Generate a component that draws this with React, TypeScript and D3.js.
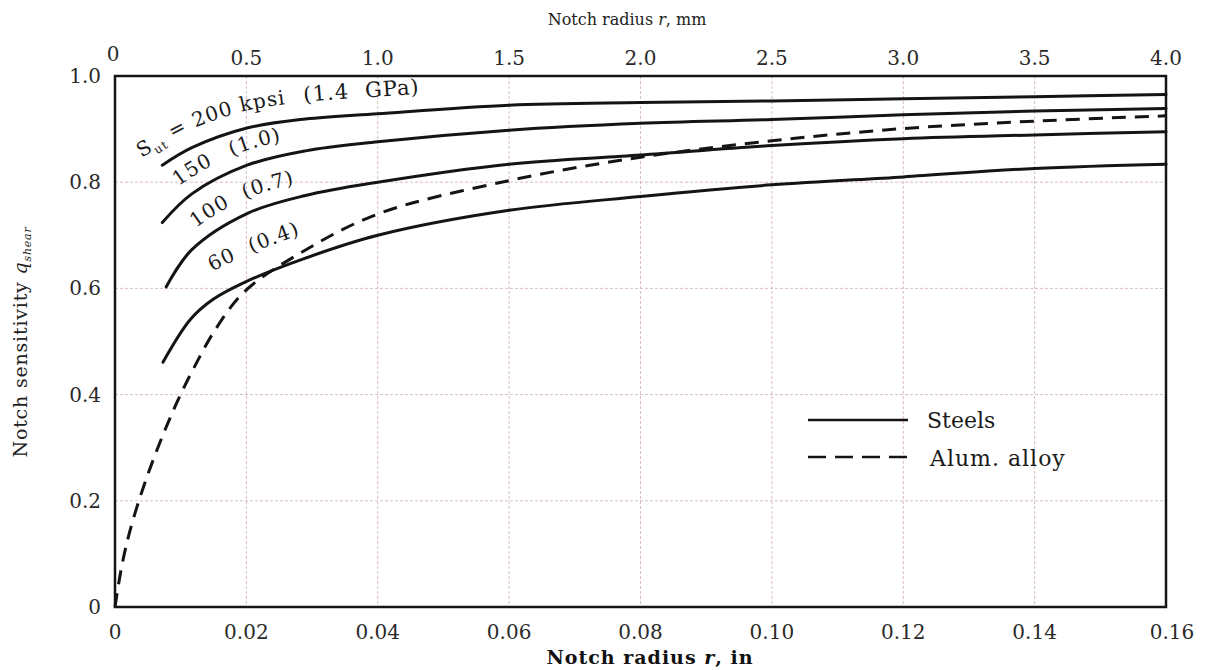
import React from "react";
import * as d3 from "d3";

// notch radius r (in) vs notch sensitivity q
const steel200 = [
  [0.0072, 0.832], [0.0117, 0.865], [0.0201, 0.902], [0.029, 0.919], [0.04, 0.929],
  [0.06, 0.945], [0.08, 0.95], [0.1, 0.953], [0.12, 0.957], [0.14, 0.961], [0.16, 0.965],
];
const steel150 = [
  [0.0072, 0.724], [0.0117, 0.778], [0.0201, 0.832], [0.029, 0.859], [0.04, 0.876],
  [0.06, 0.898], [0.08, 0.911], [0.1, 0.918], [0.12, 0.927], [0.14, 0.934], [0.16, 0.939],
];
const steel100 = [
  [0.0078, 0.603], [0.0117, 0.673], [0.0201, 0.741], [0.029, 0.775], [0.04, 0.8],
  [0.06, 0.834], [0.08, 0.851], [0.1, 0.869], [0.12, 0.882], [0.14, 0.889], [0.16, 0.895],
];
const steel60 = [
  [0.0073, 0.461], [0.0115, 0.542], [0.015, 0.58], [0.0198, 0.612], [0.029, 0.657], [0.04, 0.7],
  [0.06, 0.747], [0.08, 0.773], [0.1, 0.795], [0.12, 0.81], [0.14, 0.826], [0.16, 0.834],
];
const alumAlloy = [
  [0, 0], [0.001, 0.075], [0.0022, 0.14], [0.0039, 0.21], [0.0056, 0.27], [0.0075, 0.33],
  [0.0096, 0.39], [0.012, 0.45], [0.0154, 0.525], [0.0198, 0.595], [0.028, 0.665], [0.04, 0.74],
  [0.06, 0.803], [0.08, 0.847], [0.1, 0.878], [0.12, 0.901], [0.14, 0.915], [0.16, 0.925],
];

const inchTicks = [0, 0.02, 0.04, 0.06, 0.08, 0.1, 0.12, 0.14, 0.16];
const inchLabels = ["0", "0.02", "0.04", "0.06", "0.08", "0.10", "0.12", "0.14", "0.16"];
const mmTicks = [0, 0.5, 1, 1.5, 2, 2.5, 3, 3.5, 4];
const mmLabels = ["0", "0.5", "1.0", "1.5", "2.0", "2.5", "3.0", "3.5", "4.0"];
const qTicks = [0, 0.2, 0.4, 0.6, 0.8, 1.0];
const qLabels = ["0", "0.2", "0.4", "0.6", "0.8", "1.0"];

const steelCurves = [
  { id: "s200", data: steel200, strength: "200", gpa: "(1.4 GPa)", off: 17, start: 26 },
  { id: "s150", data: steel150, strength: "150", gpa: "(1.0)", off: 14, start: 77 },
  { id: "s100", data: steel100, strength: "100", gpa: "(0.7)", off: 14, start: 106 },
  { id: "s60", data: steel60, strength: "60", gpa: "(0.4)", off: 24, start: 146 },
];

const W = 1228;
const H = 670;
const left = 115, right = 1166, top = 76, bottom = 607;
const font = "'DejaVu Serif', 'Liberation Serif', serif";
const ink = "#141414";

export default function App() {
  const x = d3.scaleLinear().domain([0, 0.16]).range([left, right]);
  const xmm = d3.scaleLinear().domain([0, 4]).range([left, right]);
  const y = d3.scaleLinear().domain([0, 1]).range([bottom, top]);

  const line = d3
    .line<number[]>()
    .x((d) => x(d[0]))
    .y((d) => y(d[1]))
    .curve(d3.curveCatmullRom.alpha(0.5));

  const pxLine = d3.line<number[]>().curve(d3.curveCatmullRom.alpha(0.5));

  // label path: the curve pushed off along its normal, stretched a bit to the left
  const labelPath = (data: number[][], off: number) => {
    const p = data.map((d) => [x(d[0]), y(d[1])]);
    const pts = p.map((pt, i) => {
      const a = p[Math.max(0, i - 1)];
      const b = p[Math.min(p.length - 1, i + 1)];
      const tx = b[0] - a[0], ty = b[1] - a[1];
      const l = Math.hypot(tx, ty);
      return [pt[0] + (ty / l) * off, pt[1] - (tx / l) * off];
    });
    const [p0, p1] = pts;
    const dx = p0[0] - p1[0], dy = p0[1] - p1[1];
    const len = Math.hypot(dx, dy);
    const ext = [p0[0] + (dx / len) * 40, p0[1] + (dy / len) * 40];
    return pxLine([ext, ...pts]);
  };

  const gridColor = "#d9bcc4";

  return (
    <svg
      width={W}
      height={H}
      style={{ position: "absolute", left: 0, top: 0, background: "#fff" }}
      fontFamily={font}
    >
      <defs>
        {steelCurves.map((c) => (
          <path key={c.id} id={`lbl-${c.id}`} d={labelPath(c.data, c.off) || ""} fill="none" />
        ))}
      </defs>

      {/* grid */}
      <g stroke={gridColor} strokeWidth={1} strokeDasharray="3,2">
        {inchTicks.slice(1, -1).map((t) => (
          <line key={`gx${t}`} x1={x(t)} x2={x(t)} y1={top} y2={bottom} />
        ))}
        {qTicks.slice(1, -1).map((t) => (
          <line key={`gy${t}`} x1={left} x2={right} y1={y(t)} y2={y(t)} />
        ))}
      </g>

      {/* frame */}
      <rect
        x={left}
        y={top}
        width={right - left}
        height={bottom - top}
        fill="none"
        stroke={ink}
        strokeWidth={2.5}
      />

      {/* bottom ticks, in */}
      <g fontSize={20} fill="#2a2a2a" textAnchor="middle">
        {inchTicks.map((t, i) => (
          <text key={`bx${t}`} x={x(t) + (i === 8 ? 6 : 0)} y={bottom + 32}>
            {inchLabels[i]}
          </text>
        ))}
      </g>
      {/* top ticks, mm */}
      <g fontSize={20} fill="#2a2a2a" textAnchor="middle">
        {mmTicks.map((t, i) => (
          <text key={`tx${t}`} x={xmm(t) - (i === 0 ? 2 : 0)} y={top - 11 - (i === 0 ? 4 : 0)}>
            {mmLabels[i]}
          </text>
        ))}
      </g>
      {/* y ticks */}
      <g fontSize={20} fill="#2a2a2a" textAnchor="end">
        {qTicks.map((t, i) => (
          <text key={`ty${t}`} x={left - 14} y={y(t) + 7}>
            {qLabels[i]}
          </text>
        ))}
      </g>

      {/* axis titles */}
      <text x={627} y={25} fontSize={16} textAnchor="middle" fill="#222">
        Notch radius <tspan fontStyle="italic">r</tspan>, mm
      </text>
      <text
        x={650}
        y={664}
        fontSize={19}
        textAnchor="middle"
        fill="#111"
        fontWeight="bold"
        letterSpacing={1}
      >
        Notch radius <tspan fontStyle="italic">r</tspan>, in
      </text>
      <text
        transform="translate(27,342) rotate(-90)"
        fontSize={19}
        textAnchor="middle"
        fill="#222"
        letterSpacing={0.8}
      >
        Notch sensitivity <tspan fontStyle="italic">q</tspan>
        <tspan fontSize={11} dy={4} fontStyle="italic">shear</tspan>
      </text>

      {/* curves */}
      <g fill="none" stroke={ink} strokeWidth={3} strokeLinecap="round">
        {steelCurves.map((c) => (
          <path key={c.id} d={line(c.data) || ""} />
        ))}
        <path d={line(alumAlloy) || ""} strokeDasharray="14,9" strokeLinecap="butt" />
      </g>

      {/* curve labels */}
      <g fontSize={20} fill="#1a1a1a">
        {steelCurves.map((c, i) => (
          <text key={`t${c.id}`} letterSpacing={1}>
            <textPath href={`#lbl-${c.id}`} startOffset={c.start}>
              {i === 0 ? (
                <>
                  <tspan>S</tspan>
                  <tspan fontSize={12} dy={5}>ut</tspan>
                  <tspan dy={-5}> = 200 kpsi</tspan>
                  <tspan dx={18} fontSize={21}>(1.4</tspan>
                  <tspan dx={16} fontSize={21}>GPa)</tspan>
                </>
              ) : (
                <>
                  <tspan>{c.strength}</tspan>
                  <tspan dx={i === 1 ? 20 : 16}>{c.gpa}</tspan>
                </>
              )}
            </textPath>
          </text>
        ))}
      </g>

      {/* legend */}
      <g stroke={ink} strokeWidth={2.5}>
        <line x1={808} x2={908} y1={420} y2={420} />
        <line x1={808} x2={908} y1={457} y2={457} strokeDasharray="18,9" />
      </g>
      <g fontSize={22} fill="#1a1a1a">
        <text x={927} y={428}>Steels</text>
        <text x={930} y={466} letterSpacing={1}>Alum. alloy</text>
      </g>
    </svg>
  );
}
